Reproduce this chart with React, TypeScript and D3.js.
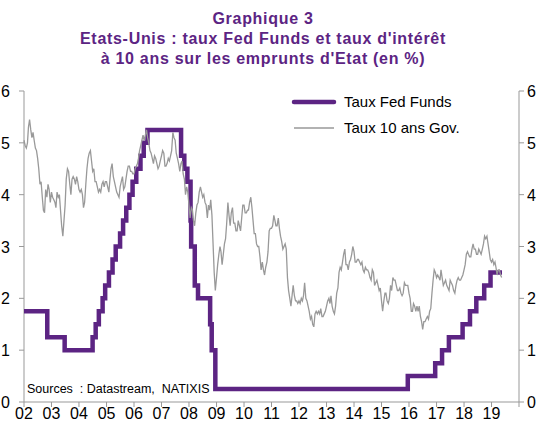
import * as d3 from "d3";

const W = 541;
const H = 430;

const titleLines = [
  "Graphique 3",
  "Etats-Unis : taux Fed Funds et taux d'intérêt",
  "à 10 ans sur les emprunts d'Etat (en %)",
];

const yearLabels = ["02", "03", "04", "05", "06", "07", "08", "09", "10", "11", "12", "13", "14", "15", "16", "17", "18", "19"];
const yTicks = [0, 1, 2, 3, 4, 5, 6];

// Fed Funds target: date of change and new level
const fedDates = [
  "2002-01-01", "2002-11-06", "2003-06-25", "2004-06-30", "2004-08-10", "2004-09-21", "2004-11-10", "2004-12-14",
  "2005-02-02", "2005-03-22", "2005-05-03", "2005-06-30", "2005-08-09", "2005-09-20", "2005-11-01", "2005-12-13",
  "2006-01-31", "2006-03-28", "2006-05-10", "2006-06-29", "2007-09-18", "2007-10-31", "2007-12-11",
  "2008-01-22", "2008-01-30", "2008-03-18", "2008-04-30", "2008-10-08", "2008-10-29", "2008-12-16",
  "2015-12-16", "2016-12-14", "2017-03-15", "2017-06-14", "2017-12-13",
  "2018-03-21", "2018-06-13", "2018-09-26", "2018-12-19", "2019-05-20",
];
const fedRates = [
  1.75, 1.25, 1.0, 1.25, 1.5, 1.75, 2.0, 2.25,
  2.5, 2.75, 3.0, 3.25, 3.5, 3.75, 4.0, 4.25,
  4.5, 4.75, 5.0, 5.25, 4.75, 4.5, 4.25,
  3.5, 3.0, 2.25, 2.0, 1.5, 1.0, 0.25,
  0.5, 0.75, 1.0, 1.25, 1.5,
  1.75, 2.0, 2.25, 2.5, 2.5,
];

// 10-year Treasury yield, two readings per month from January 2002
const bondYields = [
  5.05, 4.95, 4.9, 5.0, 5.3, 5.45, 5.25, 5.1, 5.2, 5.05, 4.9, 4.85, 4.7, 4.5, 4.2, 4.25, 3.95, 3.7, 3.65, 4.1, 3.95, 4.2, 4.1, 3.85,
  4.05, 3.95, 3.9, 3.85, 3.75, 4.05, 3.95, 4.0, 3.7, 3.4, 3.2, 3.5, 3.8, 4.3, 4.5, 4.45, 4.2, 4.0, 4.3, 4.35, 4.3, 4.2, 4.35, 4.25,
  4.1, 4.05, 4.1, 4.0, 3.75, 3.85, 4.2, 4.5, 4.7, 4.8, 4.85, 4.65, 4.45, 4.5, 4.25, 4.25, 4.15, 4.05, 4.1, 4.05, 4.2, 4.25, 4.15, 4.25,
  4.25, 4.15, 4.05, 4.3, 4.5, 4.6, 4.35, 4.25, 4.15, 4.05, 4.0, 3.95, 4.15, 4.25, 4.35, 4.1, 4.15, 4.3, 4.45, 4.55, 4.55, 4.45, 4.45, 4.4,
  4.4, 4.5, 4.55, 4.6, 4.7, 4.85, 4.95, 5.05, 5.15, 5.05, 5.15, 5.25, 5.1, 5.0, 4.85, 4.8, 4.7, 4.6, 4.75, 4.7, 4.6, 4.5, 4.55, 4.65,
  4.75, 4.85, 4.8, 4.55, 4.55, 4.6, 4.7, 4.65, 4.75, 4.85, 5.2, 5.1, 5.05, 4.8, 4.7, 4.6, 4.45, 4.6, 4.65, 4.4, 4.3, 4.0, 4.15, 4.05,
  3.8, 3.55, 3.75, 3.7, 3.5, 3.4, 3.65, 3.8, 3.85, 4.05, 4.15, 4.05, 3.95, 4.0, 3.85, 3.8, 3.55, 3.8, 3.7, 3.9, 3.6, 3.05, 2.5, 2.15,
  2.4, 2.65, 2.85, 3.0, 2.9, 2.65, 2.85, 3.05, 3.15, 3.45, 3.85, 3.6, 3.4, 3.65, 3.75, 3.45, 3.45, 3.3, 3.3, 3.5, 3.4, 3.3, 3.55, 3.8,
  3.8, 3.65, 3.65, 3.7, 3.7, 3.85, 3.95, 3.75, 3.5, 3.25, 3.25, 3.05, 3.0, 3.0, 2.8, 2.55, 2.7, 2.55, 2.45, 2.6, 2.7, 2.9, 3.3, 3.35,
  3.35, 3.4, 3.6, 3.5, 3.4, 3.4, 3.55, 3.35, 3.2, 3.1, 2.95, 3.0, 3.05, 2.95, 2.4, 2.15, 2.0, 1.85, 2.05, 2.25, 2.05, 1.95, 1.95, 1.9,
  1.95, 1.9, 2.0, 1.95, 2.05, 2.3, 2.0, 1.95, 1.85, 1.75, 1.6, 1.65, 1.5, 1.45, 1.7, 1.75, 1.7, 1.75, 1.7, 1.8, 1.65, 1.65, 1.7, 1.75,
  1.85, 1.95, 2.0, 1.9, 2.05, 1.85, 1.75, 1.7, 1.85, 2.1, 2.2, 2.5, 2.6, 2.55, 2.7, 2.85, 2.95, 2.65, 2.65, 2.55, 2.7, 2.75, 2.85, 3.0,
  2.9, 2.7, 2.7, 2.75, 2.75, 2.7, 2.65, 2.7, 2.55, 2.5, 2.6, 2.55, 2.55, 2.5, 2.4, 2.35, 2.55, 2.5, 2.25, 2.3, 2.35, 2.25, 2.15, 2.2,
  1.95, 1.75, 1.95, 2.1, 2.1, 1.95, 1.9, 2.0, 2.25, 2.15, 2.4, 2.35, 2.35, 2.25, 2.15, 2.15, 2.2, 2.1, 2.05, 2.1, 2.3, 2.25, 2.25, 2.25,
  2.1, 2.0, 1.75, 1.75, 1.9, 1.85, 1.75, 1.85, 1.75, 1.85, 1.65, 1.55, 1.4, 1.55, 1.55, 1.6, 1.65, 1.6, 1.75, 1.8, 2.1, 2.35, 2.55, 2.5,
  2.4, 2.45, 2.4, 2.35, 2.55, 2.4, 2.25, 2.3, 2.35, 2.25, 2.2, 2.15, 2.35, 2.3, 2.25, 2.15, 2.1, 2.25, 2.35, 2.4, 2.35, 2.35, 2.4, 2.45,
  2.55, 2.65, 2.85, 2.9, 2.85, 2.8, 2.8, 2.95, 3.05, 2.95, 2.95, 2.85, 2.85, 2.95, 2.9, 2.85, 2.95, 3.05, 3.2, 3.15, 3.2, 3.05, 2.9, 2.75,
  2.7, 2.75, 2.65, 2.7, 2.6, 2.45, 2.55, 2.55, 2.45, 2.4,
];

const purple = "#5c2483";
const grey = "#999999";
const font = "'Liberation Sans', Arial, sans-serif";

export default function App() {
  const x = d3
    .scaleTime()
    .domain([new Date(2002, 0, 1), new Date(2020, 0, 1)])
    .range([24, 519]);
  const y = d3.scaleLinear().domain([0, 6]).range([402, 91]);

  const fedData = fedDates.map((d, i) => ({ date: d3.timeParse("%Y-%m-%d")(d) as Date, v: fedRates[i] }));
  const bondData = bondYields.map((v, i) => ({
    date: new Date(2002 + Math.floor(i / 24), Math.floor((i % 24) / 2), i % 2 ? 16 : 1),
    v,
  }));

  const fedLine = d3
    .line<{ date: Date; v: number }>()
    .x((d) => x(d.date))
    .y((d) => y(d.v))
    .curve(d3.curveStepAfter);
  const bondLine = d3
    .line<{ date: Date; v: number }>()
    .x((d) => x(d.date))
    .y((d) => y(d.v));

  const yearTicks = d3.timeYear.range(new Date(2002, 0, 1), new Date(2020, 0, 2));

  return (
    <svg
      width={W}
      height={H}
      style={{ position: "absolute", left: 0, top: 0, background: "#fff" }}
      fontFamily={font}
    >
      {titleLines.map((t, i) => (
        <text
          key={i}
          x={263}
          y={23.5 + i * 20.3}
          textAnchor="middle"
          fontSize={16}
          fontWeight="bold"
          letterSpacing={0.7}
          fill={purple}
        >
          {t}
        </text>
      ))}

      {/* axes */}
      <line x1={24} x2={24} y1={y(6)} y2={y(0)} stroke={grey} />
      <line x1={519} x2={519} y1={y(6)} y2={y(0)} stroke={grey} />
      <line x1={24} x2={519} y1={y(0)} y2={y(0)} stroke={grey} />
      {yTicks.map((t) => (
        <g key={t}>
          <line x1={19} x2={24} y1={y(t)} y2={y(t)} stroke={grey} />
          <line x1={519} x2={524} y1={y(t)} y2={y(t)} stroke={grey} />
          <text x={10} y={y(t) + 6} textAnchor="end" fontSize={16} fill="#000">
            {t}
          </text>
          <text x={527} y={y(t) + 6} fontSize={16} fill="#000">
            {t}
          </text>
        </g>
      ))}
      {yearTicks.map((d, i) => (
        <g key={i}>
          <line x1={x(d)} x2={x(d)} y1={y(0)} y2={y(0) + 5} stroke={grey} />
          {i < yearLabels.length && (
            <text x={x(d)} y={419} textAnchor="middle" fontSize={16} fill="#000">
              {yearLabels[i]}
            </text>
          )}
        </g>
      ))}

      <path d={fedLine(fedData) || ""} fill="none" stroke={purple} strokeWidth={4.5} />
      <path d={bondLine(bondData) || ""} fill="none" stroke={grey} strokeWidth={1.3} />

      {/* legend */}
      <line x1={294} x2={334} y1={102} y2={102} stroke={purple} strokeWidth={4.5} strokeLinecap="round" />
      <text x={344} y={107} fontSize={15} fill="#000">Taux Fed Funds</text>
      <line x1={294} x2={334} y1={128} y2={128} stroke={grey} strokeWidth={1.3} />
      <text x={344} y={133} fontSize={15} fill="#000">Taux 10 ans Gov.</text>

      <text x={27} y={393} fontSize={12.5} fill="#000" style={{ whiteSpace: "pre" }}>
        {"Sources  : Datastream,  NATIXIS"}
      </text>
    </svg>
  );
}
